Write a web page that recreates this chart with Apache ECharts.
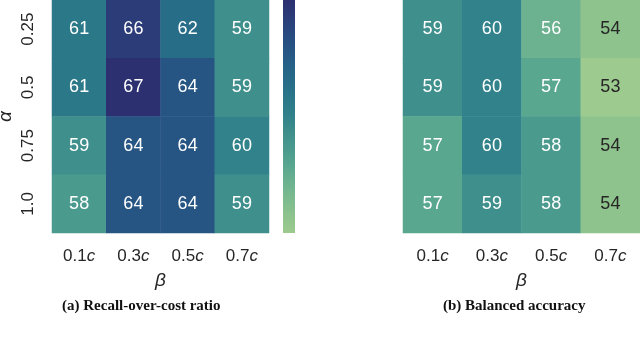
<!DOCTYPE html>
<html>
<head>
<meta charset="utf-8">
<script src="https://cdn.jsdelivr.net/npm/echarts@6/dist/echarts.min.js"></script>
<style>
  html, body { margin: 0; padding: 0; background: #fff; }
  #chart { width: 640px; height: 338px; }
</style>
</head>
<body>
<div id="chart"></div>
<script>
// beta on x, alpha on y (top to bottom)
const betaLabels = ['0.1c', '0.3c', '0.5c', '0.7c']
const alphaLabels = ['0.25', '0.5', '0.75', '1.0']

// rows follow alphaLabels, columns follow betaLabels
const recallOverCost = [
  [61, 66, 62, 59],
  [61, 67, 64, 59],
  [59, 64, 64, 60],
  [58, 64, 64, 59]
]
const balancedAccuracy = [
  [59, 60, 56, 54],
  [59, 60, 57, 53],
  [57, 60, 58, 54],
  [57, 59, 58, 54]
]

// seaborn "crest"-like ramp, light green -> dark indigo
const crest = ['#9dca8f', '#8ec38d', '#7dbb8e', '#6cb290', '#5aa790', '#4a9b8e', '#3f8f8c',
  '#31828a', '#2b7889', '#276d88', '#256287', '#265584', '#28497f', '#2b3c78', '#2c2f70']
const colorMin = 53
const colorMax = 67

const textDark = '#262626'
const fontSans = 'Liberation Sans, Arial, sans-serif'

function toCells(matrix) {
  const cells = []
  matrix.forEach((row, r) => {
    row.forEach((v, c) => {
      cells.push({
        value: [c, r, v],
        label: { color: v < 55 ? textDark : '#fff' }
      })
    })
  })
  return cells
}

function xAxisFor(gridIndex) {
  return {
    type: 'category',
    gridIndex,
    data: betaLabels,
    axisLine: { show: false },
    axisTick: { show: false },
    splitArea: { show: false },
    axisLabel: {
      interval: 0,
      margin: 15,
      fontSize: 17,
      color: textDark,
      fontFamily: fontSans,
      formatter: v => v.replace('c', '') + '{i|c}',
      rich: { i: { fontStyle: 'italic', fontSize: 17, color: textDark, fontFamily: fontSans } }
    },
    name: 'β',
    nameLocation: 'middle',
    nameGap: 38,
    nameTextStyle: { fontSize: 19, fontStyle: 'italic', color: textDark, fontFamily: fontSans }
  }
}

function yAxisFor(gridIndex, showLabels) {
  return {
    type: 'category',
    gridIndex,
    data: alphaLabels,
    inverse: true,
    axisLine: { show: false },
    axisTick: { show: false },
    axisLabel: {
      show: showLabels,
      interval: 0,
      rotate: 90,
      margin: 15,
      fontSize: 17,
      color: textDark,
      fontFamily: fontSans
    },
    name: showLabels ? 'α' : '',
    nameLocation: 'middle',
    nameGap: 37,
    nameRotate: 90,
    nameTextStyle: { fontSize: 19, fontStyle: 'italic', color: textDark, fontFamily: fontSans }
  }
}

const cellLabel = {
  show: true,
  fontSize: 18,
  fontFamily: fontSans,
  formatter: p => p.value[2]
}

// colorbar gradient, top = max
const barStops = crest.map((c, i) => ({ offset: 1 - i / (crest.length - 1), color: c }))

const chart = echarts.init(document.getElementById('chart'), null, { renderer: 'canvas' })

chart.setOption({
  animation: false,
  grid: [
    { left: 52, top: 0, width: 217, height: 233, outerBoundsMode: 'none' },
    { left: 403, top: 0, width: 237, height: 233, outerBoundsMode: 'none' }
  ],
  xAxis: [xAxisFor(0), xAxisFor(1)],
  yAxis: [yAxisFor(0, true), yAxisFor(1, false)],
  visualMap: {
    type: 'continuous',
    show: false,
    min: colorMin,
    max: colorMax,
    seriesIndex: [0, 1],
    inRange: { color: crest }
  },
  series: [
    {
      type: 'heatmap',
      xAxisIndex: 0,
      yAxisIndex: 0,
      data: toCells(recallOverCost),
      label: cellLabel,
      itemStyle: { borderWidth: 0 },
      emphasis: { disabled: true }
    },
    {
      type: 'heatmap',
      xAxisIndex: 1,
      yAxisIndex: 1,
      data: toCells(balancedAccuracy),
      label: cellLabel,
      itemStyle: { borderWidth: 0 },
      emphasis: { disabled: true }
    }
  ],
  graphic: [
    {
      type: 'rect',
      shape: { x: 283, y: 0, width: 12, height: 233 },
      style: {
        fill: new echarts.graphic.LinearGradient(0, 0, 0, 1, barStops)
      }
    },
    {
      type: 'text',
      left: 62,
      top: 299,
      style: {
        text: '(a) Recall-over-cost ratio',
        font: 'bold 15px "Liberation Serif", "Times New Roman", serif',
        fill: '#111'
      }
    },
    {
      type: 'text',
      left: 443,
      top: 299,
      style: {
        text: '(b) Balanced accuracy',
        font: 'bold 15px "Liberation Serif", "Times New Roman", serif',
        fill: '#111'
      }
    }
  ]
})
</script>
</body>
</html>
